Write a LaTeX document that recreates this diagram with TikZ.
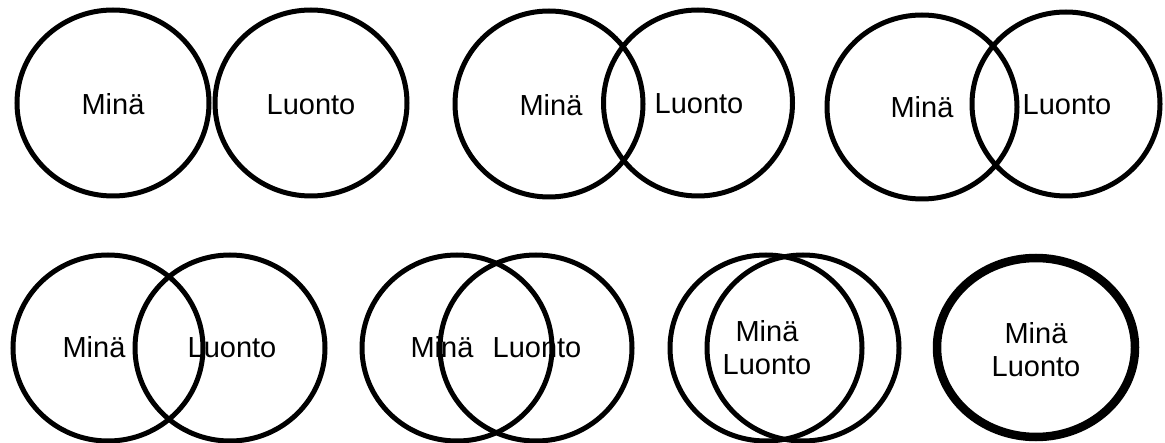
\documentclass[tikz,border=0pt]{standalone}
\usepackage{fontspec}
\setmainfont{Liberation Sans}

\tikzset{
  ring/.style={line width=5pt},
  heavyring/.style={line width=8.5pt},
  word/.style={font=\fontsize{29}{33.5}\selectfont, inner sep=0pt, anchor=base, align=center},
}

\begin{document}
\begin{tikzpicture}[x=1pt, y=-1pt]
    \useasboundingbox (0,0) rectangle (1165,443);

    % ylärivi: erilliset ja osittain päällekkäiset ympyrät
    \coordinate (minaA) at (113, 103);
    \coordinate (luontoA) at (311, 103);
    \coordinate (minaB) at (549, 104);
    \coordinate (luontoB) at (698, 103);
    \coordinate (minaC) at (922, 107);
    \coordinate (luontoC) at (1066, 104);

    \draw[ring] (minaA) ellipse (96 and 93);
    \draw[ring] (luontoA) ellipse (96 and 93);
    \draw[ring] (minaB) ellipse (94 and 93);
    \draw[ring] (luontoB) ellipse (94.5 and 93);
    \draw[ring] (minaC) ellipse (95 and 92);
    \draw[ring] (luontoC) ellipse (94 and 92);

    \node[word] (tminaA) at (113, 115) {Minä};
    \node[word] (tluontoA) at (311, 115) {Luonto};
    \node[word] (tminaB) at (551, 116) {Minä};
    \node[word] (tluontoB) at (699, 114) {Luonto};
    \node[word] (tminaC) at (922, 118) {Minä};
    \node[word] (tluontoC) at (1067, 115) {Luonto};

    % alarivi: yhä suurempi päällekkäisyys
    \coordinate (minaD) at (108, 348);
    \coordinate (luontoD) at (230, 348);
    \coordinate (minaE) at (457, 348);
    \coordinate (luontoE) at (536, 348);
    \coordinate (minaF) at (766, 348);
    \coordinate (luontoF) at (803, 348);
    \coordinate (yksi) at (1036, 347.5);

    \draw[ring] (minaD) ellipse (95 and 93);
    \draw[ring] (luontoD) ellipse (95 and 93);
    \draw[ring] (minaE) ellipse (95 and 93);
    \draw[ring] (luontoE) ellipse (96 and 93);
    \draw[ring] (minaF) ellipse (96 and 93);
    \draw[ring] (luontoF) ellipse (96 and 93);
    \draw[heavyring] (yksi) ellipse (99 and 89.5);

    \node[word] (tminaD) at (94, 358) {Minä};
    \node[word] (tluontoD) at (232, 358) {Luonto};
    \node[word] (tminaE) at (442, 358) {Minä};
    \node[word] (tluontoE) at (537, 358) {Luonto};
    \node[word] (tyhdessa) at (767, 375) {Minä\\Luonto};
    \node[word] (tyksi) at (1036, 377) {Minä\\Luonto};
\end{tikzpicture}
\end{document}
